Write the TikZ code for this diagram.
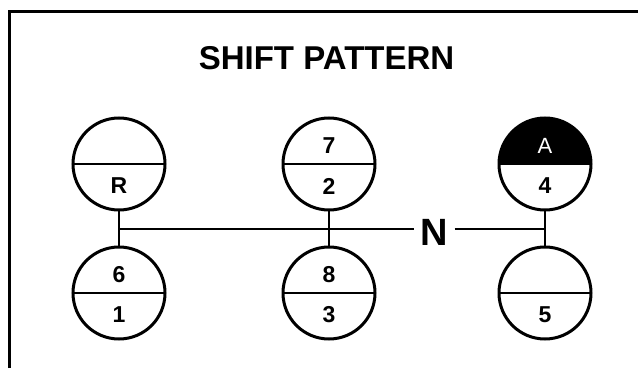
\documentclass[tikz,border=0pt]{standalone}
\usepackage{fontspec}
\setmainfont{Liberation Sans}
\begin{document}
\begin{tikzpicture}[x=1pt, y=1pt,
  gate/.style={draw, circle, line width=3pt, minimum size=92pt, inner sep=0pt, outer sep=0pt},
  gear/.style={font=\fontsize{23}{26}\selectfont\bfseries, inner sep=0pt},
  bar/.style={line width=2.6pt}]
\useasboundingbox (0,0) rectangle (638,368);
\draw[line width=3pt] (9,0) -- (9,357) -- (638,357);
\node[font=\fontsize{33}{36}\selectfont\bfseries, inner sep=0pt] (title) at (326.5,309.5) {SHIFT PATTERN};
% gate positions
\node[gate] (tR) at (119,204) {};
\node[gate] (t72) at (329,204) {};
\node[gate] (tA4) at (545,204) {};
\node[gate] (b61) at (119,75) {};
\node[gate] (b83) at (329,75) {};
\node[gate] (b5) at (545,75) {};
\fill (tA4.east) arc[start angle=0, end angle=180, radius=46pt] -- cycle;
\foreach \g in {tR,t72,tA4,b61,b83,b5}
  \draw[bar] (\g.west) -- (\g.east);
% labels
\node[gear] (lR) at ([yshift=-22pt]tR.center) {R};
\node[gear] (l7) at ([yshift=18pt]t72.center) {7};
\node[gear] (l2) at ([yshift=-22pt]t72.center) {2};
\node[gear, font=\fontsize{22}{24}\selectfont, text=white] (lA) at ([yshift=18pt]tA4.center) {A};
\node[gear] (l4) at ([yshift=-22pt]tA4.center) {4};
\node[gear] (l6) at ([yshift=18pt]b61.center) {6};
\node[gear] (l1) at ([yshift=-22pt]b61.center) {1};
\node[gear] (l8) at ([yshift=18pt]b83.center) {8};
\node[gear] (l3) at ([yshift=-22pt]b83.center) {3};
\node[gear] (l5) at ([yshift=-22pt]b5.center) {5};
% neutral line
\node[font=\fontsize{38}{40}\selectfont\bfseries, minimum width=40pt, inner sep=0pt] (N) at (434.5,136) {N};
\coordinate (jL) at (119,139);
\coordinate (jR) at (545,139);
\draw[bar] (tR.south) -- (b61.north);
\draw[bar] (t72.south) -- (b83.north);
\draw[bar] (tA4.south) -- (b5.north);
\draw[line width=2.2pt] (jL) -- (jL -| N.west);
\draw[line width=2.2pt] (N.east |- jR) -- (jR);
\end{tikzpicture}
\end{document}
